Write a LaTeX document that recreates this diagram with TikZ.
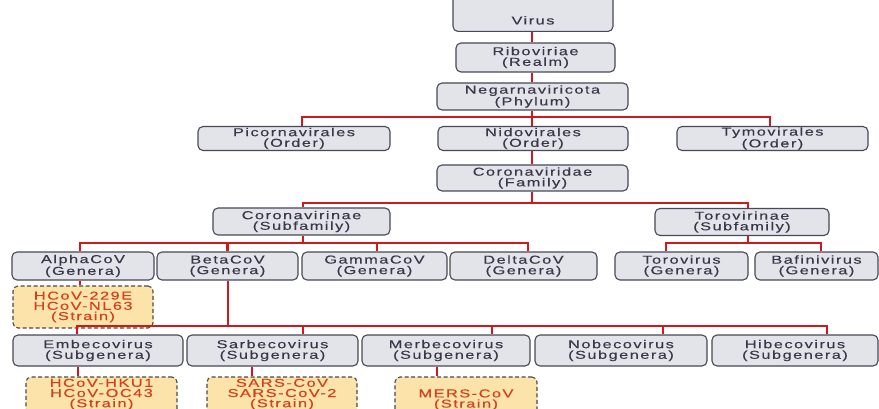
\documentclass[tikz,border=0pt]{standalone}
\usepackage{fontspec}
\newfontfamily\lblfont{Liberation Sans}[FakeStretch=1.42,LetterSpace=13,FakeBold=0.3]
\newcommand{\zeroline}[2][0pt]{\raisebox{#1}[0pt][0pt]{#2}}
\definecolor{linered}{HTML}{CC1A1E}
\definecolor{boxborder}{HTML}{484858}
\definecolor{boxfill}{HTML}{E3E3EA}
\definecolor{boxtext}{HTML}{38384A}
\definecolor{strainfill}{HTML}{FCE3A9}
\definecolor{straintext}{HTML}{D4401C}
\definecolor{strainborder}{HTML}{4A4A4A}
\tikzset{
  taxbox/.style={draw=boxborder, fill=boxfill, rounded corners=5pt, line width=1.1pt,
    align=center, inner sep=0pt, text=boxtext,
    font={\lblfont\fontsize{11.5}{10.6}\selectfont}},
  strainbox/.style={draw=strainborder, fill=strainfill, rounded corners=5pt, line width=1.1pt,
    dash pattern=on 4pt off 2.5pt, align=center, inner sep=0pt, text=straintext,
    font={\lblfont\fontsize{11.5}{10.2}\selectfont}},
  conn/.style={draw=linered, line width=2.4pt}
}
\begin{document}
\begin{tikzpicture}[x=1pt,y=-1pt]
\useasboundingbox (0,0) rectangle (879,409);
\coordinate (bus1) at (532,117);
\coordinate (bus2) at (532,203);
\coordinate (bus3) at (303,243);
\coordinate (bus4) at (748,243);
\coordinate (bus5) at (228,326);

% boxes
\node[taxbox, minimum width=160, minimum height=40, anchor=south] (virus) at (533,32) {\zeroline[-13pt]{Virus}};
\node[taxbox, minimum width=159, minimum height=29] (ribo) at (535.5,57.5) {Riboviriae\\(Realm)};
\node[taxbox, minimum width=191, minimum height=27] (negar) at (532.5,96.5) {Negarnaviricota\\(Phylum)};
\node[taxbox, minimum width=192, minimum height=24] (picorna) at (294,138.5) {Picornavirales\\(Order)};
\node[taxbox, minimum width=190, minimum height=24] (nido) at (533,138.5) {Nidovirales\\(Order)};
\node[taxbox, minimum width=191, minimum height=24] (tymo) at (772.5,138.5) {Tymovirales\\(Order)};
\node[taxbox, minimum width=191, minimum height=26] (corid) at (532.5,178) {Coronaviridae\\(Family)};
\node[taxbox, minimum width=177, minimum height=27] (corin) at (301.5,221.5) {Coronavirinae\\(Subfamily)};
\node[taxbox, minimum width=174, minimum height=27] (torin) at (742,222) {Torovirinae\\(Subfamily)};
\node[taxbox, minimum width=142, minimum height=28] (alpha) at (83,266) {AlphaCoV\\(Genera)};
\node[taxbox, minimum width=141, minimum height=28] (beta) at (227.5,266) {BetaCoV\\(Genera)};
\node[taxbox, minimum width=145, minimum height=28] (gamma) at (374.5,266) {GammaCoV\\(Genera)};
\node[taxbox, minimum width=147, minimum height=28] (delta) at (523.5,266) {DeltaCoV\\(Genera)};
\node[taxbox, minimum width=133, minimum height=28] (torov) at (681.5,266) {Torovirus\\(Genera)};
\node[taxbox, minimum width=123, minimum height=28] (bafin) at (816.5,266) {Bafinivirus\\(Genera)};
\node[strainbox, minimum width=140, minimum height=42] (s1) at (83,307) {HCoV-229E\\HCoV-NL63\\(Strain)};
\node[taxbox, minimum width=170, minimum height=31] (embe) at (98,350.5) {Embecovirus\\(Subgenera)};
\node[taxbox, minimum width=171, minimum height=31] (sarbe) at (272.5,350.5) {Sarbecovirus\\(Subgenera)};
\node[taxbox, minimum width=168, minimum height=31] (merbe) at (446,350.5) {Merbecovirus\\(Subgenera)};
\node[taxbox, minimum width=172, minimum height=31] (nobe) at (621,350.5) {Nobecovirus\\(Subgenera)};
\node[taxbox, minimum width=166, minimum height=31] (hibe) at (795,350.5) {Hibecovirus\\(Subgenera)};
\node[strainbox, minimum width=151, minimum height=40] (s2) at (101.5,397) {\zeroline{HCoV-HKU1}\\\zeroline{HCoV-OC43}\\\zeroline{(Strain)}};
\node[strainbox, minimum width=150, minimum height=40] (s3) at (282,397) {\zeroline{SARS-CoV}\\\zeroline{SARS-CoV-2}\\\zeroline{(Strain)}};
\node[strainbox, minimum width=142, minimum height=40] (s4) at (466,397) {\zeroline[-5.5pt]{MERS-CoV}\\\zeroline[-5.5pt]{(Strain)}};

% connectors
\draw[conn] (virus.south -| bus1) -- (ribo.north -| bus1);
\draw[conn] (ribo.south -| bus1) -- (negar.north -| bus1);
\draw[conn] (negar.south -| bus1) -- (bus1);
\draw[conn] ([xshift=8pt]picorna.north) |- (bus1) -| ([xshift=-2.5pt]tymo.north);
\draw[conn] (bus1) -- (nido.north -| bus1);
\draw[conn] (nido.south -| bus1) -- (corid.north -| bus1);
\draw[conn] (corid.south -| bus2) -- (bus2);
\draw[conn] ([xshift=1.5pt]corin.north) |- (bus2) -| ([xshift=6pt]torin.north);
\draw[conn] ([xshift=1.5pt]corin.south) -- (bus3);
\draw[conn] ([xshift=-3pt]alpha.north) |- (bus3) -| ([xshift=4.5pt]delta.north);
\draw[conn] (beta.north) -- (beta.north |- bus3);
\draw[conn] ([xshift=2.5pt]gamma.north) -- ([xshift=2.5pt]gamma.north |- bus3);
\draw[conn] ([xshift=6pt]torin.south) -- (bus4);
\draw[conn] ([xshift=-15.5pt]torov.north) |- (bus4) -| ([xshift=4.5pt]bafin.north);
\draw[conn] ([xshift=-3pt]alpha.south) -- ([xshift=-3pt]alpha.south |- s1.north);
\draw[conn] (beta.south -| bus5) -- (bus5);
\draw[conn] ([xshift=-21pt]embe.north) |- (bus5) -| ([xshift=32pt]hibe.north);
\draw[conn] ([xshift=30.5pt]sarbe.north) -- ([xshift=30.5pt]sarbe.north |- bus5);
\draw[conn] ([xshift=46pt]merbe.north) -- ([xshift=46pt]merbe.north |- bus5);
\draw[conn] ([xshift=42pt]nobe.north) -- ([xshift=42pt]nobe.north |- bus5);
\draw[conn] ([xshift=-20pt]embe.south) -- ([xshift=-20pt]embe.south |- s2.north);
\draw[conn] ([xshift=-20.5pt]sarbe.south) -- ([xshift=-20.5pt]sarbe.south |- s3.north);
\draw[conn] ([xshift=-9pt]merbe.south) -- ([xshift=-9pt]merbe.south |- s4.north);
\end{tikzpicture}
\end{document}
